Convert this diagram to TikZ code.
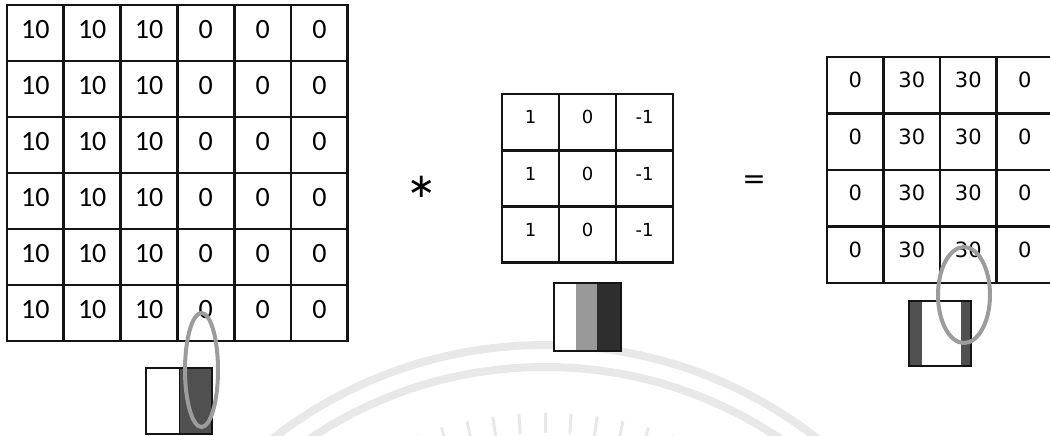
\documentclass[tikz,border=0pt]{standalone}
\usepackage{fontspec}
\setmainfont{DejaVu Sans}
\newfontfamily\calfont{Carlito}
\usetikzlibrary{shapes.geometric,calc}
\definecolor{lineblk}{HTML}{141414}
\definecolor{ringgray}{HTML}{9C9C9C}
\definecolor{wmgray}{HTML}{E8E8E8}
\definecolor{darkfill}{HTML}{505050}
\definecolor{midfill}{HTML}{999999}
\definecolor{blackfill}{HTML}{2E2E2E}
\tikzset{
  bigcell/.style={draw=lineblk, line width=2.9pt, minimum width=56.8pt, minimum height=56pt, inner sep=0pt,
     font=\calfont\fontsize{28}{28}\selectfont, text depth=8pt},
  kcell/.style={draw=lineblk, line width=2.9pt, minimum width=57pt, minimum height=56.3pt, inner sep=0pt,
     font=\fontsize{18}{18}\selectfont, text depth=10pt},
  ocell/.style={draw=lineblk, line width=2.9pt, minimum width=56.5pt, minimum height=56.5pt, inner sep=0pt,
     font=\fontsize{21}{21}\selectfont, text depth=11pt},
  ring/.style={draw=ringgray, line width=4pt, ellipse, inner sep=0pt},
  barpart/.style={inner sep=0pt, draw=none},
  barframe/.style={draw=lineblk, line width=1.8pt, inner sep=0pt, fill=none},
  wm/.style={draw=wmgray, line width=8pt},
  ray/.style={draw=wmgray, line width=3pt}
}
\begin{document}
\begin{tikzpicture}[x=1pt,y=-1pt]
\useasboundingbox (0,0) rectangle (1050,436);
% watermark
\draw[wm] (545,788) circle[radius=443];
\draw[wm] (545,788) circle[radius=421];
\foreach \a in {66,70,...,114}{
  \draw[ray] ($(545,788)+(\a:-355)$) -- ($(545,788)+(\a:-375)$);
}
% left grid
\foreach \r in {0,...,5}{
  \foreach \c/\v in {0/10,1/10,2/10,3/0,4/0,5/0}{
    \node[bigcell] (L\r\c) at ({7+56.8*(\c+0.5)},{5+56*(\r+0.5)}) {\v};
  }
}
% operator
\node[font=\fontsize{34}{34}\selectfont, inner sep=0pt] (star) at (422,187) {∗};
% kernel
\foreach \r in {0,...,2}{
  \foreach \c/\v in {0/1,1/0,2/-1}{
    \node[kcell] (K\r\c) at ({502+57*(\c+0.5)},{94+56.3*(\r+0.5)}) {\v};
  }
}
\node[font=\fontsize{28}{28}\selectfont, inner sep=0pt] (eq) at (754,182) {=};
% output
\foreach \r in {0,...,3}{
  \foreach \c/\v in {0/0,1/30,2/30,3/0}{
    \node[ocell] (O\r\c) at ({827+56.5*(\c+0.5)},{57+56.5*(\r+0.5)}) {\v};
  }
}
% left bar
\node[barpart, fill=white, minimum width=33pt, minimum height=66pt] (lb1) at (162.5,401) {};
\node[barpart, fill=darkfill, minimum width=33pt, minimum height=66pt] (lb2) at (195.5,401) {};
\node[barframe, minimum width=66pt, minimum height=66pt] (lbf) at (179,401) {};
\draw[lineblk, line width=1.2pt] (lb1.north east) -- (lb1.south east);
\node[ring, minimum width=33pt, minimum height=114pt] (lring) at (201.5,370) {};
% kernel bar
\node[barpart, fill=white, minimum width=22pt, minimum height=68pt] (kb1) at (565,317) {};
\node[barpart, fill=midfill, minimum width=21pt, minimum height=68pt] (kb2) at (586.5,317) {};
\node[barpart, fill=blackfill, minimum width=24pt, minimum height=68pt] (kb3) at (609,317) {};
\node[barframe, minimum width=67pt, minimum height=68pt] (kbf) at (587.5,317) {};
% output bar
\node[barpart, fill=white, minimum width=62pt, minimum height=65pt] (ob0) at (940,333.5) {};
\node[barpart, fill=darkfill, minimum width=13pt, minimum height=65pt] (ob1) at (915.5,333.5) {};
\node[barpart, fill=darkfill, minimum width=10pt, minimum height=65pt] (ob2) at (966,333.5) {};
\node[barframe, minimum width=62pt, minimum height=65pt] (obf) at (940,333.5) {};
\node[ring, minimum width=52pt, minimum height=96pt] (oring) at (964,295) {};
\end{tikzpicture}
\end{document}
